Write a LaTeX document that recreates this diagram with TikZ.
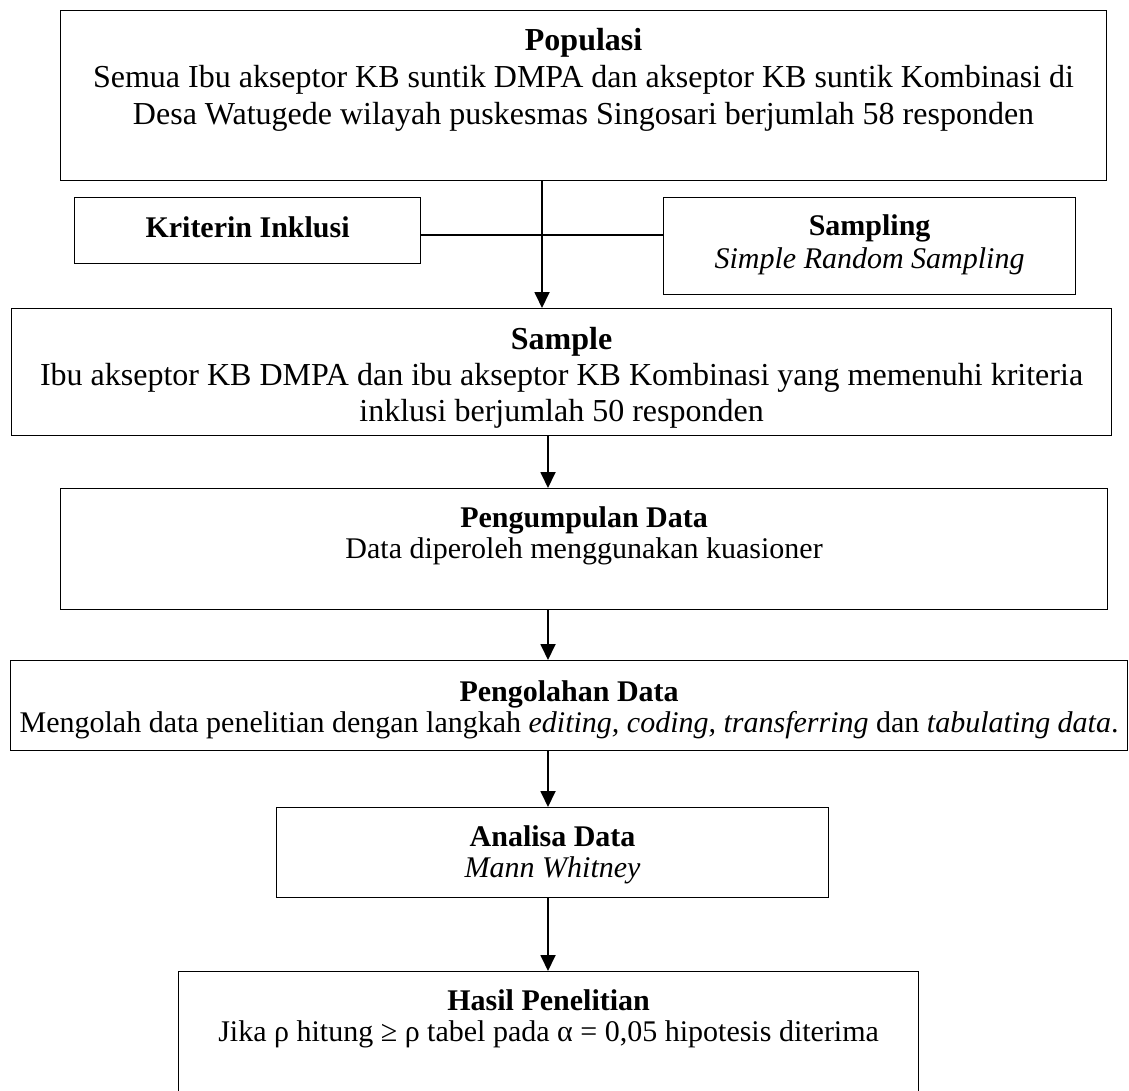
\documentclass[tikz,border=0pt]{standalone}
\usepackage{fontspec}
\setmainfont{Liberation Serif}
\usetikzlibrary{arrows.meta}
% #1 width, #2 height, #3 top pad, #4 font size, #5 line spacing, #6 content
\newcommand{\mybx}[6]{\parbox[t][#2][t]{#1}{\fontsize{#4}{#5}\selectfont\centering\vspace*{#3}\rule{0pt}{25pt}#6\par}}
\tikzset{
  flowbox/.style={draw, line width=1.2pt, inner sep=0pt, anchor=north west},
  flowarr/.style={line width=1.8pt, -{Triangle[width=15pt,length=16pt]}},
  flowline/.style={line width=1.2pt}
}
\begin{document}
\begin{tikzpicture}[x=1pt,y=-1pt]
\useasboundingbox (0,0) rectangle (1129,1091);
\clip (0,0) rectangle (1129,1091);
\node[flowbox] (pop) at (60,10) {\mybx{1046pt}{170pt}{15pt}{32}{37}{\textbf{Populasi}\\
Semua Ibu akseptor KB suntik DMPA dan akseptor KB suntik Kombinasi di\\
Desa Watugede wilayah puskesmas Singosari berjumlah 58 responden}};
\node[flowbox] (krit) at (74,197) {\mybx{346pt}{66pt}{15pt}{30}{33}{\textbf{Kriterin Inklusi}}};
\node[flowbox] (samp) at (663,197) {\mybx{412pt}{97pt}{13pt}{30}{33}{\textbf{Sampling}\\
\textit{Simple Random Sampling}}};
\node[flowbox] (sample) at (11,308) {\mybx{1100pt}{127pt}{16pt}{32}{36}{\textbf{Sample}\\
Ibu akseptor KB DMPA dan ibu akseptor KB Kombinasi yang memenuhi kriteria\\
inklusi berjumlah 50 responden}};
\node[flowbox] (peng) at (60,488) {\mybx{1047pt}{121pt}{14pt}{30}{31}{\textbf{Pengumpulan Data}\\
Data diperoleh menggunakan kuasioner}};
\node[flowbox] (olah) at (10,660) {\mybx{1117pt}{90pt}{16pt}{30}{31}{\textbf{Pengolahan Data}\\
\mbox{Mengolah data penelitian dengan langkah \textit{editing, coding, transferring} dan \textit{tabulating data}.}}};
\node[flowbox] (anal) at (276,807) {\mybx{552pt}{90pt}{14pt}{30}{31}{\textbf{Analisa Data}\\
\textit{Mann Whitney}}};
\node[flowbox] (hasil) at (178,971) {\mybx{740pt}{120pt}{14pt}{30}{31}{\textbf{Hasil Penelitian}\\
Jika ρ hitung ≥ ρ tabel pada α = 0,05 hipotesis diterima}};
\coordinate (ca) at (542,0);
\coordinate (cb) at (548,0);
\coordinate (hl) at (0,235);
\draw[flowline] (krit.east |- hl) -- (samp.west |- hl);
\draw[flowarr] (pop.south -| ca) -- (sample.north -| ca);
\draw[flowarr] (sample.south -| cb) -- (peng.north -| cb);
\draw[flowarr] (peng.south -| cb) -- (olah.north -| cb);
\draw[flowarr] (olah.south -| cb) -- (anal.north -| cb);
\draw[flowarr] (anal.south -| cb) -- (hasil.north -| cb);
\end{tikzpicture}
\end{document}
